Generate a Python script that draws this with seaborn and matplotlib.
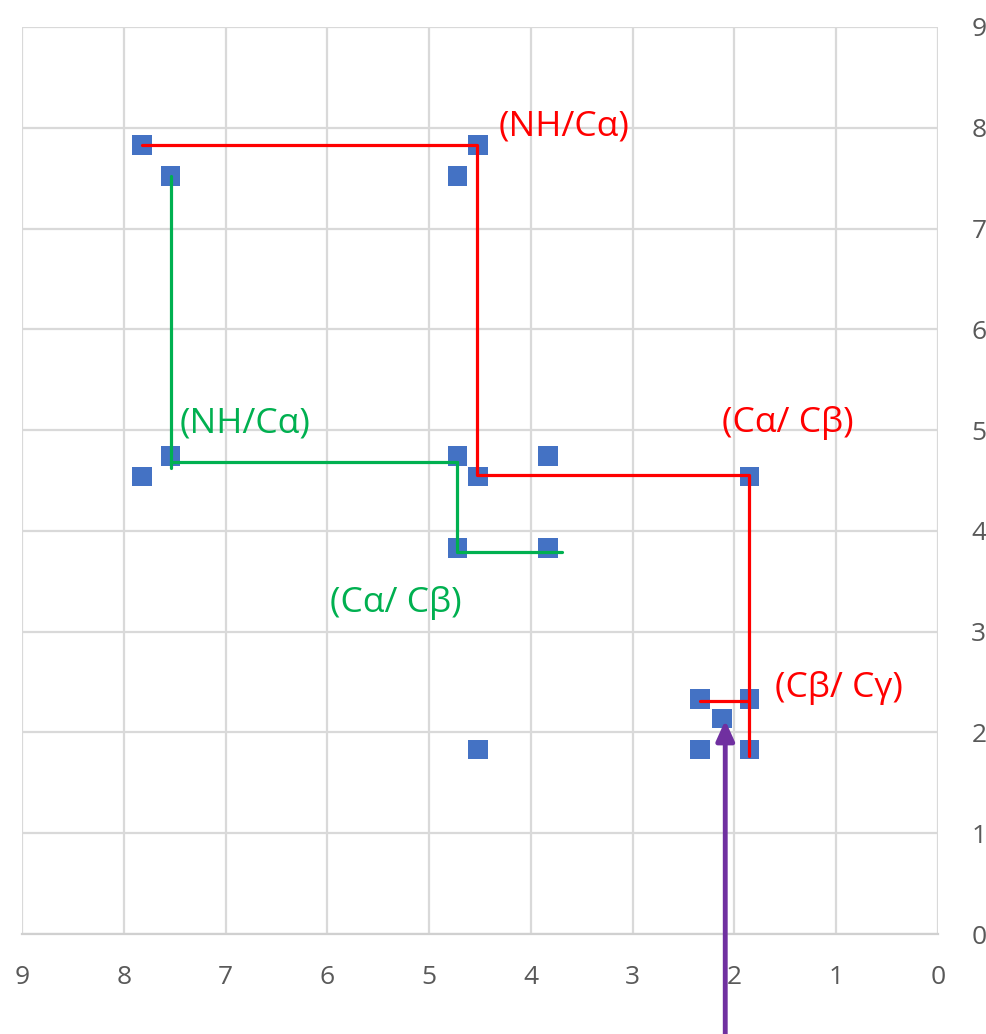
import matplotlib
matplotlib.use("Agg")
import matplotlib.pyplot as plt
import seaborn as sns
import pandas as pd

# Peak positions (x = ppm, y = ppm)
peak_x = [7.82, 4.52, 7.54, 4.72, 7.54, 7.82, 4.72, 3.83, 4.52, 1.85,
          4.72, 3.83, 2.34, 1.85, 2.12, 4.52, 2.34, 1.85]
peak_y = [7.83, 7.83, 7.52, 7.52, 4.74, 4.54, 4.74, 4.74, 4.54, 4.54,
          3.83, 3.83, 2.33, 2.33, 2.14, 1.83, 1.83, 1.83]

# Red connectivity path
red_x = [7.82, 4.53, 4.53, 1.86, 1.86]
red_y = [7.83, 7.83, 4.55, 4.55, 1.77]
red_short_x = [2.34, 1.86]
red_short_y = [2.31, 2.31]

# Green connectivity path
green_x = [7.54, 7.54, 4.73, 4.73, 3.69]
green_y = [7.52, 4.62, 4.68, 3.79, 3.79]
green_hx = [7.54, 4.73]
green_hy = [4.68, 4.68]

# Labels
red_labels = ["(NH/Cα)", "(Cα/ Cβ)", "(Cβ/ Cγ)"]
red_label_x = [4.32, 2.12, 1.60]
red_label_y = [8.01, 5.07, 2.44]
green_labels = ["(NH/Cα)", "(Cα/ Cβ)"]
green_label_x = [7.45, 5.97]
green_label_y = [5.07, 3.28]

# Arrow
arrow_x = 2.09
arrow_tip_y = 2.12
arrow_tail_y = -1.0

ticks = list(range(0, 10))

sns.set_theme(style="white")
plt.rcParams['font.family'] = ['Open Sans', 'DejaVu Sans']

fig = plt.figure(figsize=(9.87, 10.34), dpi=100)
ax = fig.add_axes([0.0223, 0.0967, 0.928, 0.8772])

grid_c = "#D9D9D9"
red_c = "#FF0000"
green_c = "#00B050"

gv1 = pd.DataFrame({"x": [green_x[0], green_x[1]], "y": [green_y[0], green_y[1]], "g": 0})
gv2 = pd.DataFrame({"x": green_x[2:], "y": green_y[2:], "g": 1})
gh = pd.DataFrame({"x": green_hx, "y": green_hy, "g": 2})
gdf = pd.concat([gv1, gv2, gh])
sns.lineplot(data=gdf, x="x", y="y", units="g", estimator=None, sort=False,
             color=green_c, linewidth=2.3, ax=ax, zorder=3)

rdf = pd.concat([
    pd.DataFrame({"x": red_x, "y": red_y, "g": 0}),
    pd.DataFrame({"x": red_short_x, "y": red_short_y, "g": 1}),
])
sns.lineplot(data=rdf, x="x", y="y", units="g", estimator=None, sort=False,
             color=red_c, linewidth=2.3, ax=ax, zorder=3)

pdf = pd.DataFrame({"x": peak_x, "y": peak_y})
sns.scatterplot(data=pdf, x="x", y="y", marker="s", s=200, color="#4472C4",
                edgecolor="none", ax=ax, zorder=2)

for t, x, y in zip(red_labels, red_label_x, red_label_y):
    ax.text(x, y, t, color=red_c, fontsize=25.5, ha="left", va="center", zorder=4)
for t, x, y in zip(green_labels, green_label_x, green_label_y):
    ax.text(x, y, t, color=green_c, fontsize=25.5, ha="left", va="center", zorder=4)

ax.annotate("", xy=(arrow_x, arrow_tip_y), xytext=(arrow_x, arrow_tail_y),
            xycoords="data", textcoords="data", annotation_clip=False,
            arrowprops=dict(arrowstyle="-|>,head_length=1.0,head_width=0.45",
                            color="#7030A0", lw=3.5, shrinkA=0, shrinkB=0),
            zorder=5)

ax.set_xlim(9, 0)
ax.set_ylim(0, 9)
ax.set_xticks(ticks)
ax.set_yticks(ticks)
ax.set_xticklabels([str(t) for t in ticks])
ax.set_yticklabels([str(t) for t in ticks])
ax.yaxis.tick_right()
ax.tick_params(axis="both", length=0, labelsize=19, colors="#595959")
ax.tick_params(axis="x", pad=22)
ax.tick_params(axis="y", pad=24)
ax.set_xlabel("")
ax.set_ylabel("")
ax.grid(True, color=grid_c, linewidth=1.6)
ax.set_axisbelow(True)
for side in ["left", "top", "right"]:
    ax.spines[side].set_visible(False)
ax.spines["bottom"].set_color("#D0D0D0")
ax.spines["bottom"].set_linewidth(1.6)

fig.savefig("out.png", dpi=100)
